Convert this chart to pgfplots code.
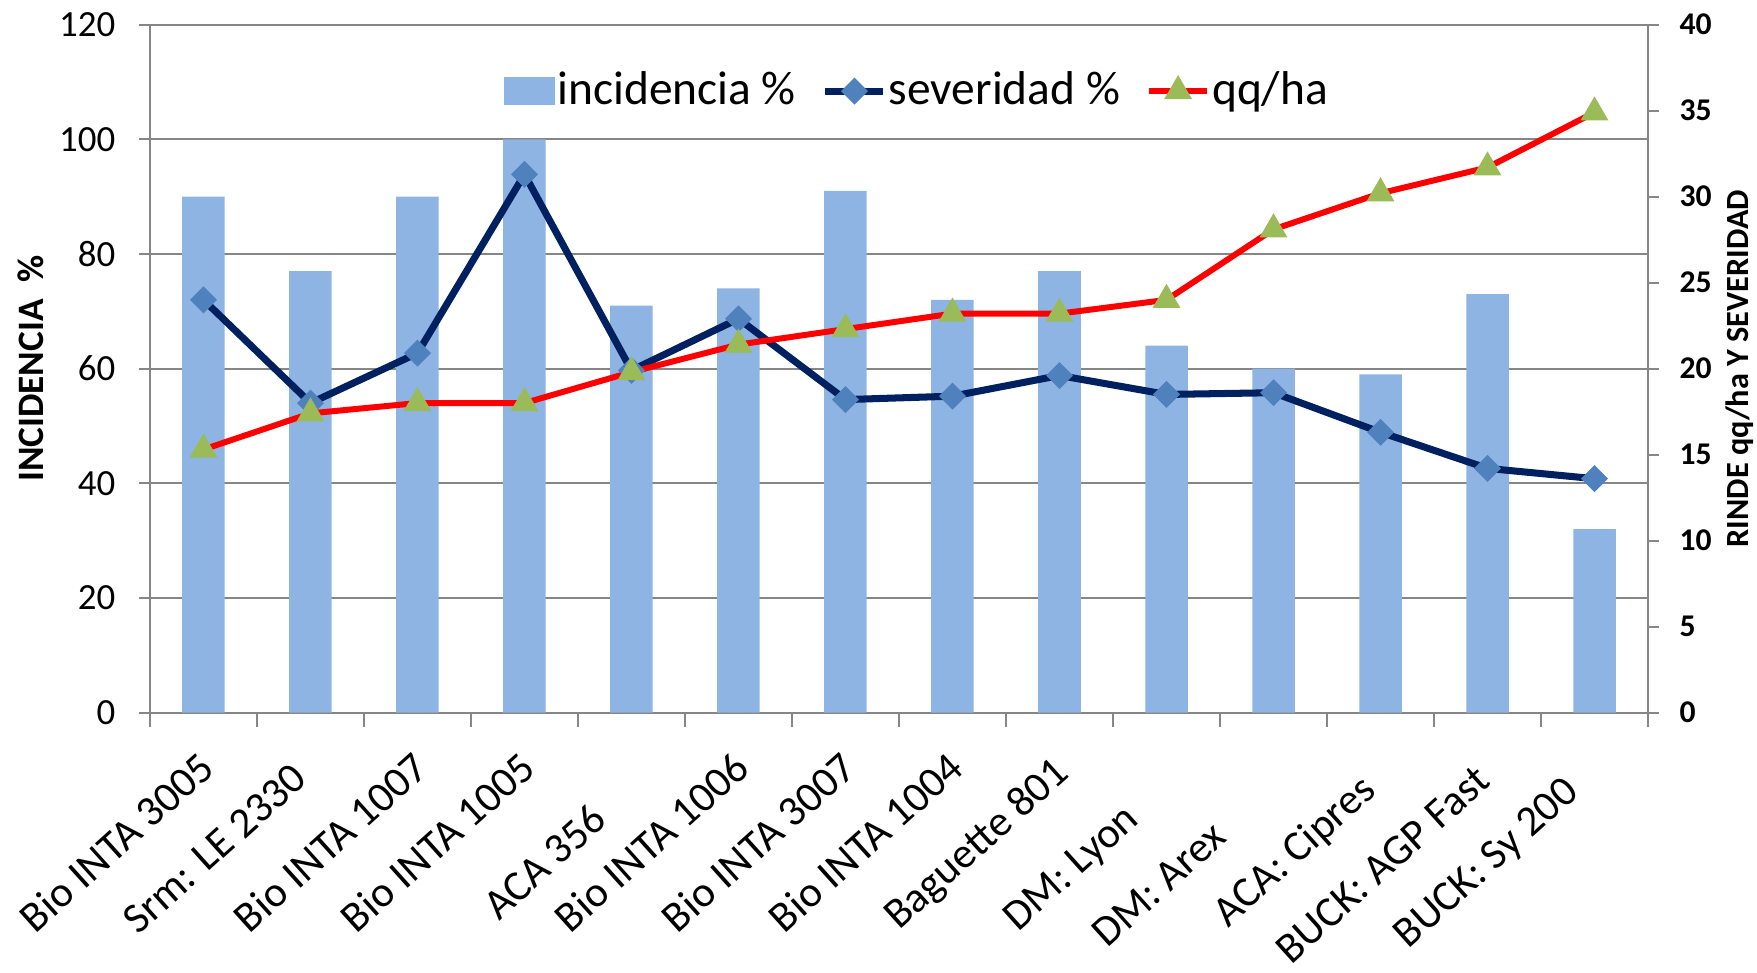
\documentclass[border=0pt]{standalone}
\usepackage{pgfplots}
\pgfplotsset{compat=1.18}
\usepackage{fontspec}
\setmainfont{Carlito}
\definecolor{barblue}{RGB}{142,180,227}
\definecolor{sevnavy}{RGB}{0,32,96}
\definecolor{sevmark}{RGB}{79,129,189}
\definecolor{qqgreen}{RGB}{155,187,89}
\definecolor{axgray}{RGB}{134,134,134}
% per-label offsets of the category labels (mm)
\def\xsh{{-0.67,-2.04,-0.67,-0.67,-4.25,-0.67,-0.67,-0.67,-0.84,-4.42,-6.33,-2.24,-1.38,-3.29}}
\def\ysh{{-2.5,-3.7,-2.5,-2.5,-7.7,-2.5,-2.5,-2.5,-3.0,-7.7,-9.5,-4.7,-3.9,-5.0}}
\begin{document}
\begin{tikzpicture}
\pgfplotsset{
  base/.style={
    width=149.8mm, height=68.79mm, scale only axis,
    xmin=-0.5, xmax=13.5,
    at={(0,0)}, anchor=south west,
    /pgf/number format/assume math mode=true,
    axis line style={axgray, line width=0.6pt, -},
    tick style={axgray, line width=0.6pt},
    tick align=outside,
    major tick length=1.1mm,
    minor tick length=1.4mm,
  },
  lineleg/.style={legend image code/.code={
    \path (0,0);
    \draw[##1, mark repeat=2, mark phase=2] plot coordinates {(0.4mm,0) (3.3mm,0) (6.2mm,0)};}},
}
\begin{axis}[base,
  ymin=0, ymax=120, ytick={0,20,...,120},
  ymajorgrids, grid style={axgray, line width=0.6pt},
  axis x line*=bottom, axis y line*=left,
  xtick={0,...,13},
  xticklabels={Bio INTA 3005, Srm: LE 2330, Bio INTA 1007, Bio INTA 1005, ACA 356, Bio INTA 1006, Bio INTA 3007, Bio INTA 1004, Baguette 801, DM: Lyon, DM: Arex, ACA: Cipres, BUCK: AGP Fast, BUCK: Sy 200},
  major x tick style={draw=none},
  minor xtick={-0.5,0.5,...,13.5},
  xticklabel style={font=\fontsize{12.2}{14}\selectfont, inner sep=0pt, anchor=north east,
    yshift={\ysh[\ticknum]*1mm}, xshift={\xsh[\ticknum]*1mm}, rotate=42},
  yticklabel style={font=\fontsize{10.5}{12}\selectfont, inner sep=0pt, anchor=east, xshift=-2.3mm},
  ylabel={INCIDENCIA\ \ \%},
  ylabel style={font=\bfseries\fontsize{10.6}{12}\selectfont, at={(axis description cs:-0.0794,0.5)}, anchor=center},
]
\addplot[ybar, bar width=4.25mm, fill=barblue, draw=none] coordinates {
(0,90) (1,77) (2,90) (3,100) (4,71) (5,74) (6,91) (7,72) (8,77) (9,64) (10,60) (11,59) (12,73) (13,32)};
\end{axis}
\begin{axis}[base,
  ymin=0, ymax=40, ytick={0,5,...,40},
  axis y line*=right, axis x line=none,
  yticklabel style={font=\bfseries\fontsize{9}{10}\selectfont, inner sep=0pt, anchor=west, xshift=2mm},
  ylabel={RINDE qq/ha Y SEVERIDAD},
  ylabel style={font=\bfseries\fontsize{9.2}{11}\selectfont, at={(axis description cs:1.0614,0.5)}, anchor=center, rotate=0},
  legend columns=3,
  legend style={at={(0.512,0.9035)}, anchor=center, draw=none, fill=none,
    font=\fontsize{13.5}{15}\selectfont,
    nodes={inner sep=0.2mm},
    /tikz/every even column/.append style={column sep=2.0mm}},
]
\addlegendimage{legend image code/.code={\fill[barblue] (-0.4mm,-1.3mm) rectangle (4.6mm,1.3mm);}}
\addlegendentry{incidencia \%}
\addplot[sevnavy, line width=2pt, mark=square*, mark size=0.9mm,
  mark options={fill=sevmark, draw=sevmark, rotate=45, line width=0.3pt}, lineleg] coordinates {
(0,24.0) (1,18.0) (2,20.9) (3,31.3) (4,19.9) (5,22.9) (6,18.2) (7,18.4) (8,19.6) (9,18.5) (10,18.6) (11,16.3) (12,14.2) (13,13.6)};
\addlegendentry{severidad \%}
\addplot[red, line width=1.7pt, mark=triangle*, mark size=1.5mm,
  mark options={fill=qqgreen, draw=qqgreen, line width=0.3pt}, lineleg] coordinates {
(0,15.3) (1,17.4) (2,18.0) (3,18.0) (4,19.8) (5,21.4) (6,22.3) (7,23.2) (8,23.2) (9,24.0) (10,28.1) (11,30.2) (12,31.7) (13,34.9)};
\addlegendentry{qq/ha}
\end{axis}
\pgfresetboundingbox
\path[use as bounding box] (-15.0mm,-26.04mm) rectangle (160.7mm,71.26mm);
\end{tikzpicture}
\end{document}
